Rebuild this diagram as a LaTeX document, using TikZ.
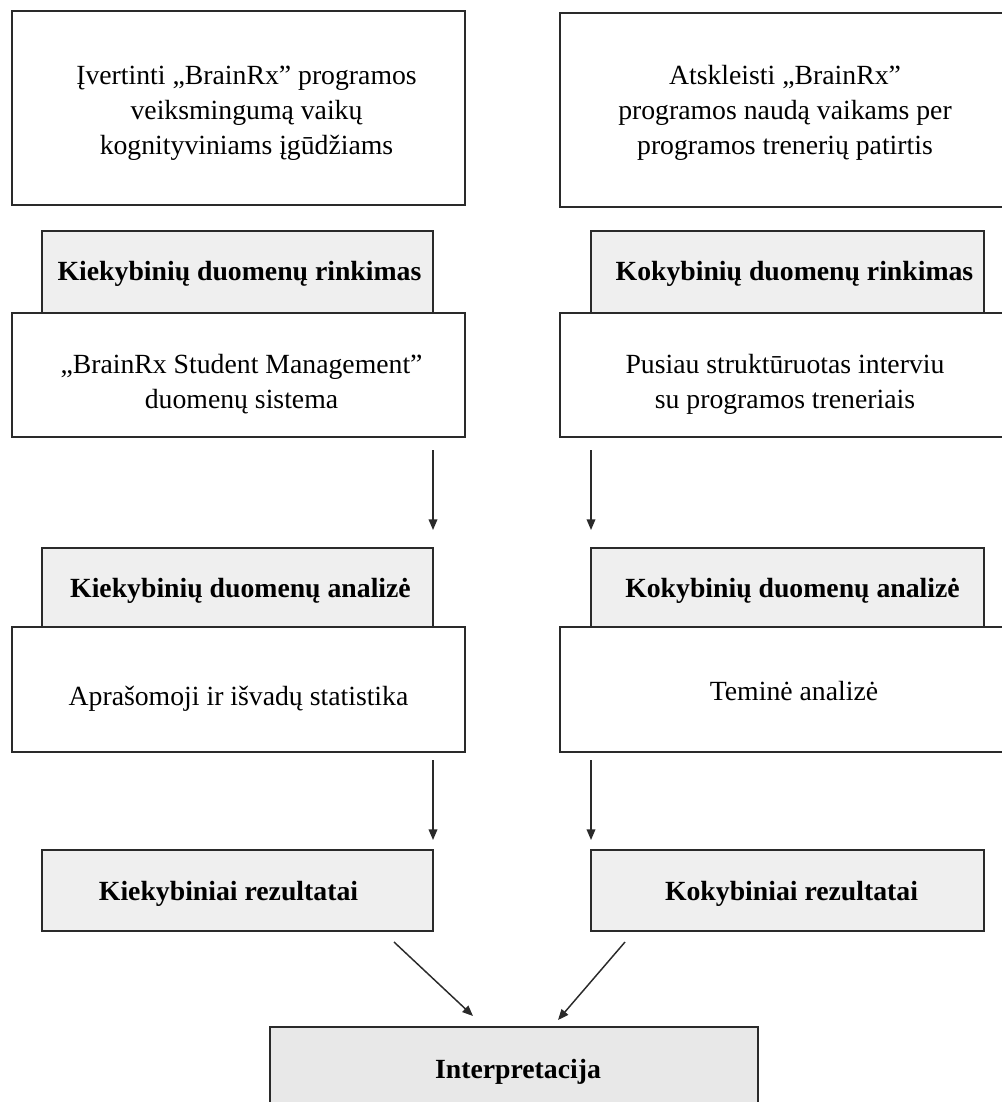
\documentclass[tikz,border=0pt]{standalone}
\usepackage{fontspec}
\setmainfont{Liberation Serif}
\usetikzlibrary{arrows.meta,calc}
\definecolor{boxline}{HTML}{2A2A2A}
\definecolor{greyfill}{HTML}{EFEFEF}
\definecolor{interfill}{HTML}{E8E8E8}
\tikzset{
  txtbox/.style={draw=boxline,line width=1.5pt,fill=white,inner sep=0pt,outer sep=0pt},
  greybox/.style={txtbox,fill=greyfill},
  bodytext/.style={align=center,inner sep=0pt,font=\fontsize{20.8}{26.3}\selectfont},
  headtext/.style={bodytext,font=\fontsize{20.8}{26.3}\selectfont\bfseries},
  flow/.style={draw=boxline,line width=1.1pt,-{Triangle[length=8pt,width=6.5pt]}}
}
\begin{document}
\begin{tikzpicture}[x=0.75pt,y=-0.75pt]
\useasboundingbox (0,0) rectangle (1002,1102);
% top goal boxes
\node[txtbox,minimum width=453*0.75pt,minimum height=194*0.75pt] (A1) at (238.5,108) {};
\node[bodytext] (A1t) at ($(A1.center)+(8,5)$)
  {Įvertinti „BrainRx” programos\\veiksmingumą vaikų\\kognityviniams įgūdžiams};
\node[txtbox,minimum width=450*0.75pt,minimum height=194*0.75pt] (A2) at (785,110) {};
\node[bodytext] (A2t) at ($(A2.center)+(0,3)$)
  {Atskleisti „BrainRx”\\programos naudą vaikams per\\programos trenerių patirtis};
% data collection
\node[greybox,minimum width=391*0.75pt,minimum height=82*0.75pt] (G1) at (237.5,272) {};
\node[headtext] (G1t) at ($(G1.center)+(2,2)$) {Kiekybinių duomenų rinkimas};
\node[greybox,minimum width=393*0.75pt,minimum height=82*0.75pt] (G2) at (787.5,272) {};
\node[headtext] (G2t) at ($(G2.center)+(7,2)$) {Kokybinių duomenų rinkimas};
\node[txtbox,minimum width=453*0.75pt,minimum height=124*0.75pt] (B1) at (238.5,375) {};
\node[bodytext] (B1t) at ($(B1.center)+(3,9)$)
  {„BrainRx Student Management”\\duomenų sistema};
\node[txtbox,minimum width=450*0.75pt,minimum height=124*0.75pt] (B2) at (785,375) {};
\node[bodytext] (B2t) at ($(B2.center)+(0,9)$)
  {Pusiau struktūruotas interviu\\su programos treneriais};
% analysis
\node[greybox,minimum width=391*0.75pt,minimum height=79*0.75pt] (G3) at (237.5,587.5) {};
\node[headtext] (G3t) at ($(G3.center)+(3,3)$) {Kiekybinių duomenų analizė};
\node[greybox,minimum width=393*0.75pt,minimum height=79*0.75pt] (G4) at (787.5,587.5) {};
\node[headtext] (G4t) at ($(G4.center)+(5,3)$) {Kokybinių duomenų analizė};
\node[txtbox,minimum width=453*0.75pt,minimum height=125*0.75pt] (C1) at (238.5,689.5) {};
\node[bodytext] (C1t) at ($(C1.center)+(0,9)$) {Aprašomoji ir išvadų statistika};
\node[txtbox,minimum width=450*0.75pt,minimum height=125*0.75pt] (C2) at (785,689.5) {};
\node[bodytext] (C2t) at ($(C2.center)+(9,2)$) {Teminė analizė};
% results
\node[greybox,minimum width=391*0.75pt,minimum height=81*0.75pt] (R1) at (237.5,890.5) {};
\node[headtext] (R1t) at ($(R1.center)+(-9,3)$) {Kiekybiniai rezultatai};
\node[greybox,minimum width=393*0.75pt,minimum height=81*0.75pt] (R2) at (787.5,890.5) {};
\node[headtext] (R2t) at ($(R2.center)+(4,3)$) {Kokybiniai rezultatai};
\node[greybox,fill=interfill,minimum width=488*0.75pt,minimum height=86*0.75pt] (I) at (514,1070) {};
\node[headtext] (It) at ($(I.center)+(4,2)$) {Interpretacija};
% arrows
\draw[flow] ($(B1.south -| G3.east)+(0,13)$) -- ($(G3.north east)+(0,-18)$);
\draw[flow] ($(B2.south -| G4.west)+(0,13)$) -- ($(G4.north west)+(0,-18)$);
\draw[flow] ($(C1.south -| R1.east)+(0,8)$) -- ($(R1.north east)+(0,-10)$);
\draw[flow] ($(C2.south -| R2.west)+(0,8)$) -- ($(R2.north west)+(0,-10)$);
\draw[flow] ($(R1.south)+(156.5,11)$) -- ($(I.north)+(-41,-11)$);
\draw[flow] ($(R2.south)+(-162.5,11)$) -- ($(I.north)+(44,-7)$);
\end{tikzpicture}
\end{document}
